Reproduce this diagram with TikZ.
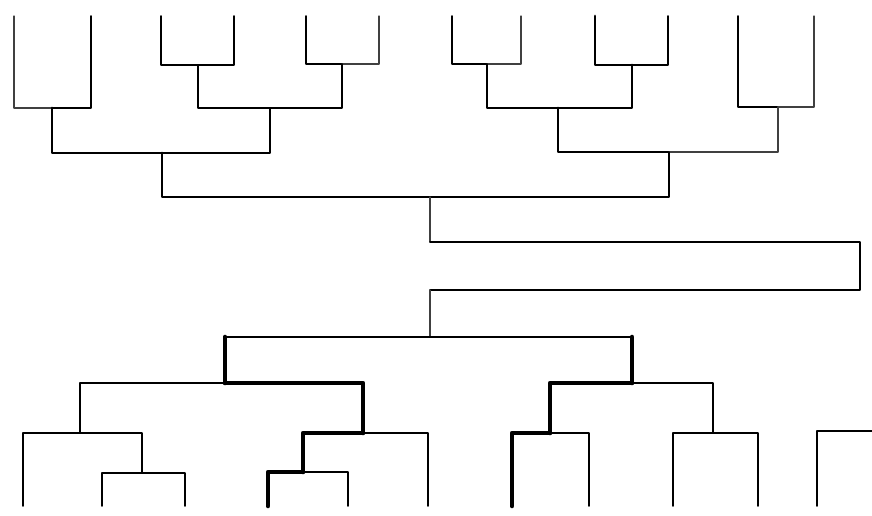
\documentclass[tikz,border=0pt]{standalone}

\begin{document}
\begin{tikzpicture}[x=0.02cm,y=-0.02cm,line cap=round,line join=round,
  thinline/.style={line width=0.7pt,black!75},
  midline/.style={line width=1.1pt},
  thickline/.style={line width=1.6pt},
  heavyline/.style={line width=2.6pt}]
  \useasboundingbox (0,0) rectangle (872,516);
  % upper tree, leaves on top
  \foreach \n/\x in {1/14,2/91,3/161,4/234,5/306,6/379,7/452,8/521,9/595,10/668,11/738,12/814}
    \coordinate (t\n) at (\x,16);
  \coordinate (a12) at (52,108);
  \coordinate (a34) at (198,65);
  \coordinate (a56) at (342,64);
  \coordinate (a3456) at (270,108);
  \coordinate (aL) at (162,153);
  \coordinate (a78) at (487,64);
  \coordinate (a910) at (632,65);
  \coordinate (a710) at (558,108);
  \coordinate (a1112) at (778,107);
  \coordinate (aR) at (669,152);
  \coordinate (rt) at (430,197);
  % link between the trees
  \coordinate (k1) at (430,242);
  \coordinate (k2) at (860,242);
  \coordinate (k3) at (860,290);
  \coordinate (k4) at (430,290);
  % lower tree, leaves below
  \foreach \n/\x in {1/23,2/102,3/185,4/268,5/348,6/428,7/512,8/589,9/673,10/758,11/817}
    \coordinate (u\n) at (\x,506);
  \coordinate (bRoot) at (430,337);
  \coordinate (bA) at (225,383);
  \coordinate (bB) at (80,433);
  \coordinate (bC) at (142,473);
  \coordinate (bD) at (363,433);
  \coordinate (bE) at (303,472);
  \coordinate (bF) at (632,383);
  \coordinate (bG) at (550,433);
  \coordinate (bH) at (713,433);
  \coordinate (bEnd) at (872,431);

  % upper tree, left half
  \draw[thinline] (a12) -| (t1);
  \draw[midline] (a12) -| (t2);
  \draw[midline] (a34) -| (t3);
  \draw[midline] (a34) -| (t4);
  \draw[midline] (a56) -| (t5);
  \draw[thinline] (a56) -| (t6);
  \draw[midline] (a3456) -| (a34);
  \draw[midline] (a3456) -| (a56);
  \draw[thickline] (aL) -| (a12);
  \draw[midline] (aL) -| (a3456);
  % upper tree, right half
  \draw[midline] (a78) -| (t7);
  \draw[thinline] (a78) -| (t8);
  \draw[thickline] (a910) -| (t9);
  \draw[midline] (a910) -| (t10);
  \draw[midline] (a710) -| (a78);
  \draw[thickline] (a710) -| (a910);
  \draw[midline] (a1112) -| (t11);
  \draw[thinline] (a1112) -| (t12);
  \draw[thickline] (aR) -| (a710);
  \draw[thinline] (aR) -| (a1112);
  % upper root
  \draw[thickline] (rt) -| (aL);
  \draw[midline] (rt) -| (aR);

  % link
  \draw[thinline] (rt) -- (k1);
  \draw[midline] (k1) -- (k2) -- (k3) -- (k4);
  \draw[thinline] (k4) -- (bRoot);

  % lower tree
  \draw[midline] (bRoot -| bA) -- (bRoot -| bF);
  \draw[heavyline] (bRoot -| bA) -- (bA);
  \draw[heavyline] (bRoot -| bF) -- (bF);
  \draw[midline] (bA) -| (bB);
  \draw[heavyline] (bA) -| (bD);
  \draw[midline] (bB) -| (u1);
  \draw[midline] (bB) -| (bC);
  \draw[midline] (bC) -| (u2);
  \draw[midline] (bC) -| (u3);
  \draw[heavyline] (bD) -| (bE);
  \draw[midline] (bD) -| (u6);
  \draw[heavyline] (bE) -| (u4);
  \draw[midline] (bE) -| (u5);
  \draw[heavyline] (bF) -| (bG);
  \draw[midline] (bF) -| (bH);
  \draw[heavyline] (bG) -| (u7);
  \draw[midline] (bG) -| (u8);
  \draw[midline] (bH) -| (u9);
  \draw[midline] (bH) -| (u10);
  \draw[midline] (bEnd) -| (u11);
\end{tikzpicture}
\end{document}
